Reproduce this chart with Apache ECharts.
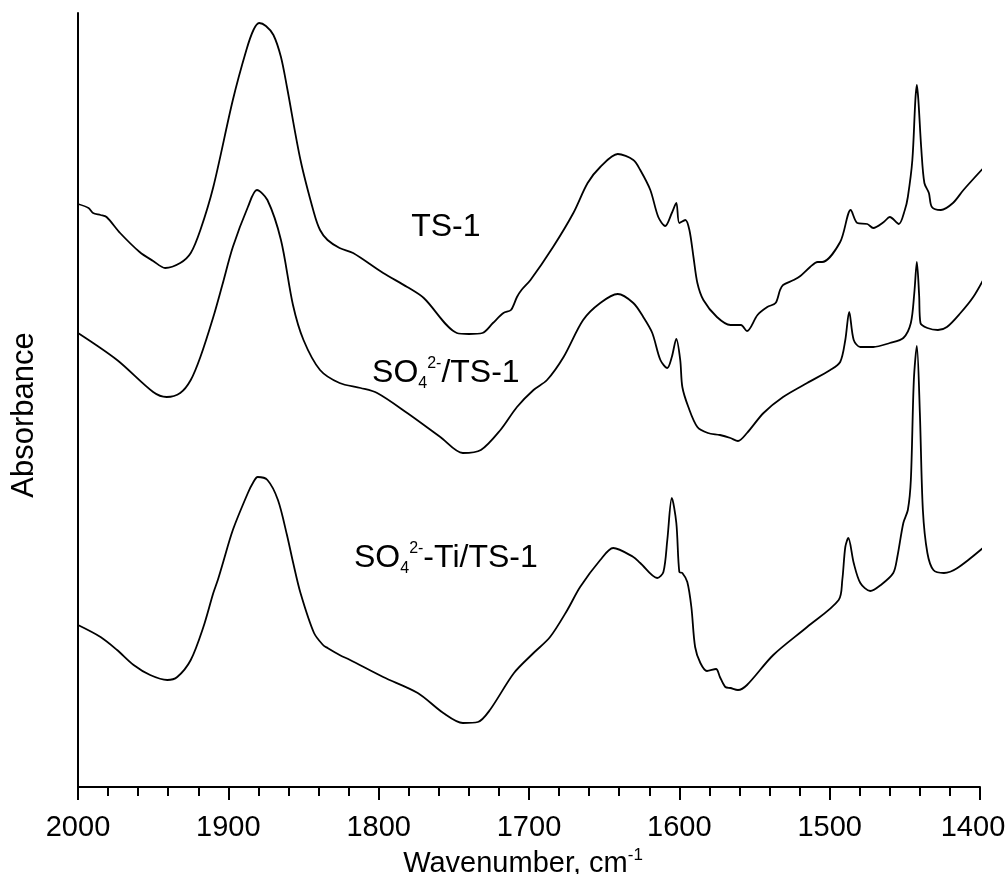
<!DOCTYPE html>
<html><head><meta charset="utf-8">
<script src="https://cdn.jsdelivr.net/npm/echarts/dist/echarts.min.js"></script>
<style>html,body{margin:0;padding:0;background:#fff;}#c{width:1005px;height:874px;}</style>
</head><body><div id="c"></div>
<script>
// [wavenumber (cm-1), absorbance (arb. units, offset stacked)]
const ts1 = [[2000,5.83],[1993,5.79],[1990,5.74],[1985,5.72],[1981,5.70],[1972,5.54],[1959,5.35],[1950,5.26],[1942,5.19],[1932,5.24],[1925,5.34],[1918.6,5.57],[1910,6.00],[1897,6.87],[1888,7.37],[1883.3,7.57],[1879.5,7.64],[1875,7.61],[1870,7.52],[1865,7.30],[1861,7.00],[1852,6.27],[1843,5.74],[1839,5.57],[1834,5.47],[1826,5.39],[1817,5.34],[1797,5.14],[1781,5.00],[1770,4.89],[1748,4.54],[1740,4.53],[1731,4.54],[1724,4.64],[1717,4.74],[1712,4.77],[1708,4.90],[1705,4.97],[1699,5.07],[1684,5.40],[1670.5,5.74],[1661,6.04],[1652.6,6.20],[1641,6.33],[1630.6,6.27],[1626,6.17],[1619.3,5.97],[1614,5.70],[1609.4,5.61],[1605,5.74],[1602,5.84],[1600,5.64],[1596,5.67],[1593.3,5.57],[1590.6,5.30],[1588,5.04],[1584,4.87],[1575,4.70],[1566,4.62],[1559,4.62],[1555,4.56],[1548,4.72],[1541.5,4.80],[1536,4.84],[1533,4.97],[1531,5.02],[1524,5.07],[1519.5,5.11],[1513,5.20],[1508,5.25],[1505,5.25],[1493,5.45],[1486,5.77],[1481.6,5.64],[1475,5.63],[1471,5.59],[1464,5.65],[1460,5.70],[1454,5.63],[1450,5.77],[1448,5.90],[1445,6.27],[1443,6.87],[1442,7.02],[1441,6.87],[1439,6.37],[1437,6.04],[1434,5.94],[1432,5.80],[1426,5.77],[1418,5.84],[1411,5.97],[1396.5,6.21]];

const so4ts1 = [[2000,4.54],[1974,4.27],[1950,3.95],[1941,3.90],[1932,3.94],[1925,4.07],[1918.6,4.30],[1910,4.70],[1904,5.02],[1897,5.40],[1887,5.80],[1881,5.97],[1874,5.87],[1865,5.47],[1857,4.82],[1850,4.47],[1839,4.17],[1826,4.04],[1812,3.99],[1801,3.94],[1781,3.74],[1759,3.50],[1744,3.34],[1732,3.37],[1719,3.57],[1708,3.80],[1697,3.97],[1688,4.07],[1677,4.30],[1664,4.67],[1652.6,4.84],[1641,4.93],[1630.6,4.84],[1624,4.70],[1618,4.54],[1612.6,4.27],[1608,4.19],[1605,4.30],[1602,4.48],[1599.4,4.27],[1598,4.00],[1594,3.80],[1588,3.60],[1581,3.54],[1573,3.52],[1566,3.49],[1561,3.46],[1555,3.54],[1544,3.74],[1531,3.90],[1515,4.04],[1499.6,4.17],[1493,4.25],[1489.6,4.47],[1487,4.75],[1484,4.47],[1479.6,4.40],[1471,4.40],[1460,4.44],[1451,4.49],[1446,4.64],[1443.7,4.94],[1442,5.25],[1440.5,4.92],[1439.6,4.64],[1435,4.59],[1428,4.57],[1422,4.60],[1413,4.74],[1404.5,4.90],[1396.5,5.11]];

const so4tits1 = [[2000,1.62],[1985,1.50],[1974,1.37],[1963,1.22],[1952,1.12],[1940.6,1.07],[1934,1.10],[1925,1.27],[1916.6,1.60],[1910,1.94],[1907,2.07],[1904,2.22],[1897,2.57],[1887,2.94],[1883.3,3.05],[1880.5,3.10],[1874,3.07],[1867,2.87],[1861,2.52],[1857,2.25],[1852,1.94],[1843,1.54],[1837,1.42],[1834,1.39],[1826,1.32],[1819,1.27],[1797,1.10],[1774,0.94],[1757,0.74],[1744,0.64],[1734,0.65],[1726,0.77],[1710,1.14],[1697,1.34],[1686,1.50],[1674.5,1.77],[1666,2.00],[1652.6,2.27],[1644,2.39],[1630.6,2.30],[1626,2.24],[1614.7,2.09],[1610.6,2.15],[1608,2.47],[1605,2.89],[1602,2.64],[1600,2.15],[1598,2.14],[1594.7,2.05],[1592,1.80],[1589.5,1.40],[1586,1.24],[1581.6,1.16],[1575.6,1.18],[1573,1.10],[1569.4,1.00],[1566,0.99],[1561,0.97],[1555,1.02],[1537.5,1.32],[1515,1.60],[1494,1.87],[1491.6,2.07],[1489.6,2.40],[1487.6,2.49],[1484,2.24],[1479.6,2.04],[1473,1.96],[1466,2.02],[1457.7,2.14],[1455,2.30],[1451,2.64],[1448,2.77],[1446,3.07],[1444,4.07],[1442,4.41],[1440,3.74],[1438,2.77],[1435,2.34],[1431,2.17],[1424,2.14],[1415,2.19],[1396.5,2.41]];

const seriesNames = ['TS-1', 'SO4/TS-1', 'SO4-Ti/TS-1'];
const xTicks = [2000, 1900, 1800, 1700, 1600, 1500, 1400];
const xTitle = 'Wavenumber, cm';
const yTitle = 'Absorbance';
// label anchors in data units [wavenumber, absorbance]
const labelAnchors = [[1755.3, 5.60], [1755.3, 4.135], [1755.3, 2.285]];
const labelTexts = ['{n|TS-1}', '{n|SO}{b|4}{p|2-}{n|/TS-1}', '{n|SO}{b|4}{p|2-}{n|-Ti/TS-1}'];

const FONT = '"Liberation Sans", Arial, Helvetica, sans-serif';
const chart = echarts.init(document.getElementById('c'), null, {renderer: 'canvas'});

function mk(name, data) {
  return {type: 'line', name: name, data: data, showSymbol: false, symbol: 'none',
    smooth: 0.3, clip: false, silent: true,
    lineStyle: {color: '#000', width: 1.8}, emphasis: {disabled: true}};
}

const option = {
  animation: false,
  backgroundColor: '#fff',
  grid: {left: 78, right: 25, top: 13, bottom: 87, containLabel: false, outerBoundsMode: 'none'},
  xAxis: {
    type: 'value', inverse: true, min: 1400, max: 2000, interval: 100,
    axisLine: {show: true, onZero: false, lineStyle: {color: '#000', width: 2}},
    axisTick: {show: true, inside: false, length: 13, lineStyle: {color: '#000', width: 2}},
    minorTick: {show: true, splitNumber: 5, length: 9, lineStyle: {color: '#000', width: 2}},
    splitLine: {show: false}, minorSplitLine: {show: false},
    axisLabel: {color: '#000', fontSize: 29, fontFamily: FONT, margin: 26,
      formatter: function (v) { return xTicks.indexOf(v) === xTicks.length - 1 ? '{r|' + v + '}' : String(v); },
      rich: {r: {color: '#000', fontSize: 29, fontFamily: FONT, padding: [0, 14, 0, 0]}}},
    name: '{a|' + xTitle + '}{s|-1}', nameLocation: 'middle', nameGap: 58,
    nameTextStyle: {padding: [0, 12, 0, 0], rich: {
      a: {fontSize: 29, fontFamily: FONT, color: '#000', lineHeight: 34},
      s: {fontSize: 17, fontFamily: FONT, color: '#000', verticalAlign: 'top', lineHeight: 18}
    }}
  },
  yAxis: {
    type: 'value', min: 0, max: 7.74,
    axisLine: {show: true, onZero: false, lineStyle: {color: '#000', width: 2}},
    axisTick: {show: false}, axisLabel: {show: false}, splitLine: {show: false}
  },
  series: [mk(seriesNames[0], ts1), mk(seriesNames[1], so4ts1), mk(seriesNames[2], so4tits1)]
};
chart.setOption(option);

const rich = {
  n: {fontSize: 32, fontFamily: FONT, fill: '#000', color: '#000', lineHeight: 36},
  b: {fontSize: 16, fontFamily: FONT, fill: '#000', color: '#000', verticalAlign: 'bottom', lineHeight: 19},
  p: {fontSize: 16, fontFamily: FONT, fill: '#000', color: '#000', verticalAlign: 'top', lineHeight: 20}
};
const graphics = labelAnchors.map(function (a, i) {
  const p = chart.convertToPixel({gridIndex: 0}, a);
  return {type: 'text', x: p[0], y: p[1], silent: true,
    style: {text: labelTexts[i], rich: rich, align: 'center', verticalAlign: 'middle', fill: '#000', fontFamily: FONT, fontSize: 32}};
});
graphics.push({type: 'text', x: 24, y: 415, rotation: Math.PI / 2, silent: true,
  style: {text: yTitle, fontSize: 31, fontFamily: FONT, fill: '#000', align: 'center', verticalAlign: 'middle'}});
chart.setOption({graphic: graphics});
</script>
</body></html>
